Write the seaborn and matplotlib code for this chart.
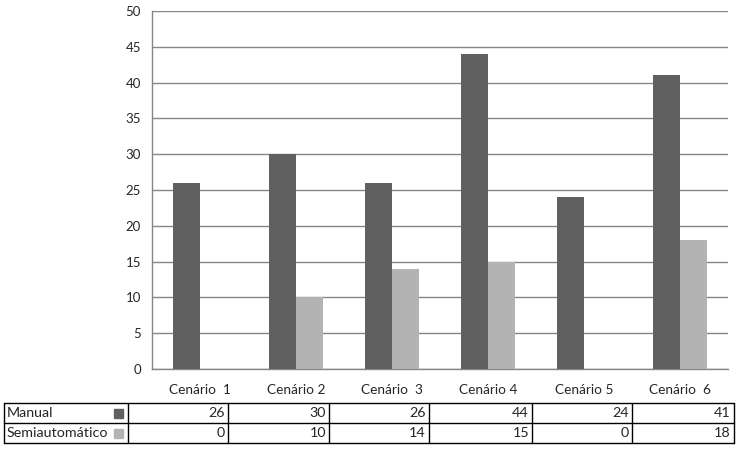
import matplotlib
matplotlib.use("Agg")
import matplotlib.pyplot as plt
import numpy as np
import pandas as pd
import seaborn as sb

cenarios = ["Cenário  1", "Cenário 2", "Cenário  3", "Cenário 4", "Cenário 5", "Cenário  6"]
manual = [26, 30, 26, 44, 24, 41]
semiauto = [0, 10, 14, 15, 0, 18]
series = ["Manual", "Semiautomático"]
cores = ["#606060", "#b3b3b3"]

df = pd.DataFrame({
    "cenario": cenarios * 2,
    "valor": manual + semiauto,
    "serie": [series[0]] * len(cenarios) + [series[1]] * len(cenarios),
})

sb.set_style("white")
plt.rcParams["font.family"] = ["Lato", "DejaVu Sans"]
plt.rcParams["font.size"] = 9

fig = plt.figure(figsize=(7.56, 4.58), dpi=100)
W, H = 756, 458
ax = fig.add_axes([152 / W, 1 - 369 / H, (728 - 152) / W, (369 - 11) / H])

sb.barplot(data=df, x="cenario", y="valor", hue="serie", palette=cores,
           width=0.5625, saturation=1, ax=ax, legend=False, zorder=3,
           linewidth=0, edgecolor="none")

ax.set_ylim(0, 50)
ax.set_xlim(-0.5, len(cenarios) - 0.5)
ax.set_yticks(np.arange(0, 51, 5))
ax.yaxis.grid(True, color="#868686", linewidth=1)
ax.set_axisbelow(True)
ax.set_xlabel("")
ax.set_ylabel("")
for s in ["top", "right"]:
    ax.spines[s].set_visible(False)
for s in ["left", "bottom"]:
    ax.spines[s].set_color("#868686")
    ax.spines[s].set_linewidth(1)
ax.tick_params(axis="y", direction="out", length=3, color="#868686", labelsize=9.5, pad=5)
# marcas do eixo x nas fronteiras, rótulos no centro
ax.set_xticks(np.arange(-0.5, len(cenarios), 1.0))
ax.set_xticklabels([])
ax.tick_params(axis="x", direction="out", length=4, color="#868686")
ax.set_xticks(np.arange(len(cenarios)), minor=True)
ax.set_xticklabels(cenarios, minor=True)
ax.tick_params(axis="x", which="minor", length=0, labelsize=9.8, pad=11)

# tabela de dados
tab = fig.add_axes([0, 0, 1, 1])
tab.set_xlim(0, W)
tab.set_ylim(H, 0)
tab.axis("off")
bordas = [4, 128, 228, 329, 429, 532, 632, 734]
linhas = [403, 423, 443]
for y in linhas:
    tab.plot([bordas[0], bordas[-1]], [y, y], color="black", lw=1)
for x in bordas:
    tab.plot([x, x], [linhas[0], linhas[-1]], color="black", lw=1)
for i, (nome, vals) in enumerate(zip(series, [manual, semiauto])):
    yc = (linhas[i] + linhas[i + 1]) / 2
    tab.text(bordas[0] + 3, yc, nome, va="center", ha="left", fontsize=10.3)
    tab.add_patch(plt.Rectangle((114, yc - 4.5), 9, 9, color=cores[i]))
    for j, v in enumerate(vals):
        tab.text(bordas[j + 2] - 3, yc, str(v), va="center", ha="right", fontsize=10.3)

fig.savefig("out.png", dpi=100)
